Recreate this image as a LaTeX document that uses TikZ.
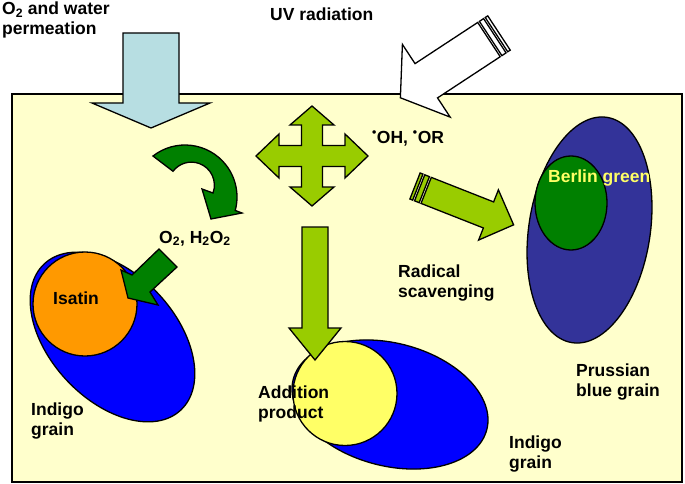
\documentclass[tikz,border=0pt]{standalone}
\usepackage{fontspec}
\setmainfont{Liberation Sans}
\definecolor{paper}{HTML}{FFFFCC}
\definecolor{iceblue}{HTML}{B7DEE2}
\definecolor{leaf}{HTML}{99CC00}
\definecolor{forest}{HTML}{008000}
\definecolor{prussian}{HTML}{333399}
\definecolor{indigoblue}{HTML}{0000FF}
\definecolor{isatinorange}{HTML}{FF9900}
\definecolor{lemon}{HTML}{FFFF66}
% striped arrow along +x: fill, length, shaft half width, head half width, head length
\newcommand{\stripearrow}[5]{%
  \draw[outl, fill=#1] (0,-#3) rectangle (3,#3);
  \draw[outl, fill=#1] (5,-#3) rectangle (10,#3);
  \draw[outl, fill=#1] (12,-#3) -- ({#2-#5},-#3) -- ({#2-#5},-#4) -- (#2,0)
    -- ({#2-#5},#4) -- ({#2-#5},#3) -- (12,#3) -- cycle;}
\begin{document}
\begin{tikzpicture}[x=1pt, y=-1pt,
  outl/.style={draw=black, line width=1.3pt},
  lbl/.style={anchor=base west, inner sep=0pt, align=left,
    font=\bfseries\fontsize{17.5}{20}\selectfont}]
\useasboundingbox (0,0) rectangle (685,484);

% sample
\draw[fill=paper, line width=1.8pt] (12,94) rectangle (682,482);

% grains
\draw[outl, fill=indigoblue, rotate around={-47:(112.5,337)}] (112.5,337) ellipse [x radius=100, y radius=63];
\draw[outl, fill=isatinorange] (85,304) circle [radius=52];
\draw[outl, fill=indigoblue, rotate around={-14.6:(390,404.5)}] (390,404.5) ellipse [x radius=100, y radius=61.4];
\draw[outl, fill=lemon] (345,393.5) circle [radius=52];
\draw[outl, fill=prussian, rotate around={-8.8:(589.5,230)}] (589.5,230) ellipse [x radius=60.7, y radius=114];
\draw[outl, fill=forest] (571,203) ellipse [x radius=36, y radius=47];

% arrows
\draw[outl, fill=iceblue] (123,33) -- (179,33) -- (179,103) -- (210,103) -- (151,128) -- (92,103) -- (123,103) -- cycle;
\begin{scope}[shift={(499,33)}, rotate=213.3]
  \stripearrow{white}{118}{20.5}{43.5}{31}
\end{scope}
\begin{scope}[shift={(415,186)}, rotate=-21.5]
  \stripearrow{leaf}{106}{14}{27}{27}
\end{scope}
\draw[outl, fill=forest] (185,197) ++(-128:52) arc[start angle=-128, end angle=15, radius=52]
  -- (242,213) -- (211,219) -- (202,189) -- (213,193) arc[start angle=20, end angle=-143, radius=23] -- cycle;
\draw[outl, fill=leaf] (312,106) -- (334,125) -- (322.5,125) -- (322.5,145.5) -- (345,145.5) -- (345,134)
  -- (368,156) -- (345,178) -- (345,166.5) -- (322.5,166.5) -- (322.5,187) -- (334,187)
  -- (312,206) -- (290,187) -- (301.5,187) -- (301.5,166.5) -- (279,166.5) -- (279,178)
  -- (256,156) -- (279,134) -- (279,145.5) -- (301.5,145.5) -- (301.5,125) -- (290,125) -- cycle;
\draw[outl, fill=leaf] (302,227) -- (328,227) -- (328,328) -- (341,328) -- (315,360) -- (289,328) -- (302,328) -- cycle;
\draw[outl, fill=forest] (128,298) -- (121,270) -- (132,275) -- (159,249) -- (177,267) -- (150,292) -- (158,305) -- cycle;

% labels (two-line labels sit on their last baseline)
\node[lbl] (permeation) at (2,35) {O\textsubscript{2} and water\\permeation};
\node[lbl] (uv) at (270,21) {UV radiation};
\node[lbl] (radicals) at (372,143) {\textsuperscript{•}OH, \textsuperscript{•}OR};
\node[lbl] (oxidants) at (159,243) {O\textsubscript{2}, H\textsubscript{2}O\textsubscript{2}};
\node[lbl] (isatin) at (53,304) {Isatin};
\node[lbl] (indigoleft) at (31,435) {Indigo\\grain};
\node[lbl, text=lemon] (berlin) at (548,182) {Berlin green};
\node[lbl] (scavenging) at (398,297) {Radical\\scavenging};
\node[lbl] (addition) at (258,418) {Addition\\product};
\node[lbl] (indigoright) at (509,468) {Indigo\\grain};
\node[lbl] (prussianlbl) at (576,396) {Prussian\\blue grain};
\end{tikzpicture}
\end{document}
